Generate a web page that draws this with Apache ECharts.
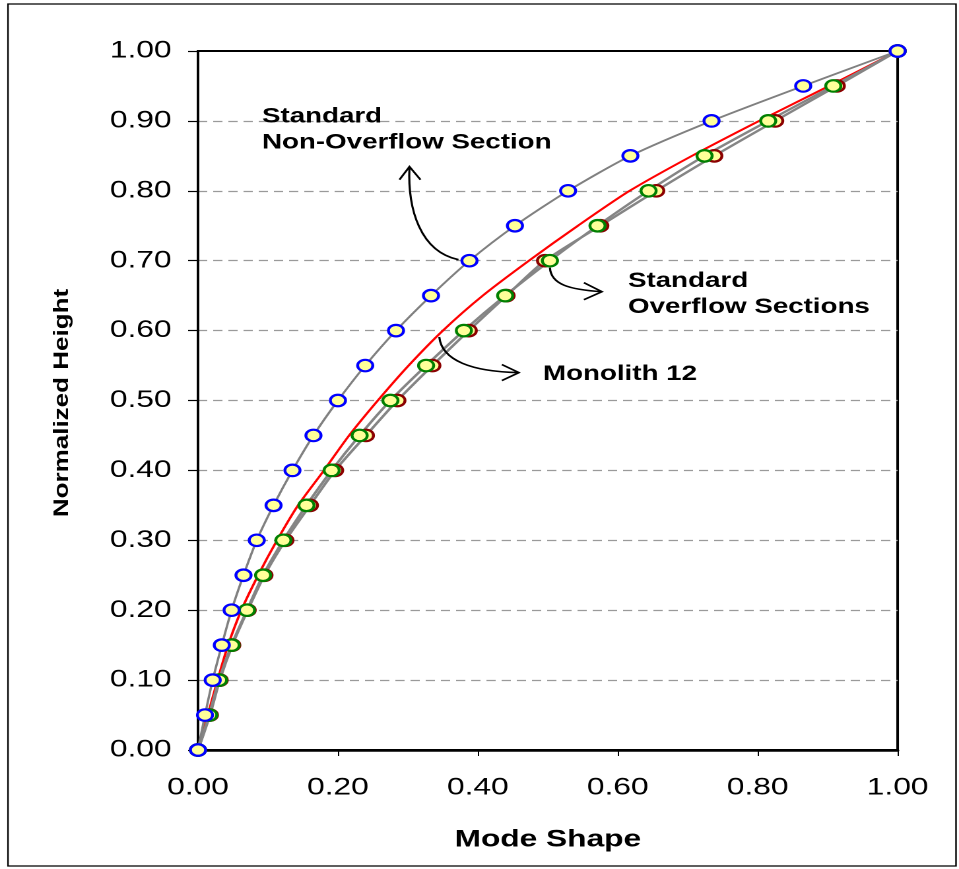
<!DOCTYPE html>
<html>
<head>
<meta charset="utf-8">
<script src="https://cdn.jsdelivr.net/npm/echarts@6/dist/echarts.min.js"></script>
<style>
  html, body { margin: 0; padding: 0; background: #fff; overflow: hidden; }
  #chart { height: 869px; transform-origin: 0 0; }
</style>
</head>
<body>
<div id="chart"></div>
<script>
// Normalized height levels (y) and the mode-shape ordinate (x) of each section at that level
const heights = [0, 0.05, 0.10, 0.15, 0.20, 0.25, 0.30, 0.35, 0.40, 0.45, 0.50,
                 0.55, 0.60, 0.65, 0.70, 0.75, 0.80, 0.85, 0.90, 0.95, 1.00];
const nonOverflow = [0, 0.010, 0.021, 0.034, 0.048, 0.065, 0.084, 0.108, 0.135, 0.165, 0.200,
                     0.239, 0.283, 0.333, 0.388, 0.453, 0.529, 0.618, 0.734, 0.865, 1.000];
const overflowA = [0, 0.016, 0.030, 0.048, 0.070, 0.093, 0.122, 0.155, 0.191, 0.231, 0.275,
                   0.326, 0.380, 0.439, 0.503, 0.571, 0.644, 0.724, 0.815, 0.908, 1.000];
const overflowB = [0, 0.017, 0.031, 0.049, 0.071, 0.095, 0.125, 0.160, 0.196, 0.240, 0.285,
                   0.335, 0.387, 0.441, 0.496, 0.575, 0.655, 0.738, 0.825, 0.913, 1.000];
const monolith12 = [0, 0.014, 0.028, 0.043, 0.062, 0.086, 0.113, 0.143, 0.180, 0.216, 0.257,
                    0.301, 0.350, 0.407, 0.473, 0.543, 0.617, 0.706, 0.802, 0.902, 1.000];
const xTicks = { min: 0, max: 1, interval: 0.2 };
const yTicks = { min: 0, max: 1, interval: 0.1 };

// The figure is laid out in a narrower canvas and widened horizontally.
const S = 1.32;
const W = 959 / S;
const dom = document.getElementById('chart');
dom.style.width = W + 'px';
dom.style.transform = 'scaleX(' + S + ')';

const FONT = '"Liberation Sans", Arial, sans-serif';
const pairs = xs => xs.map((x, i) => [x, heights[i]]);

const chart = echarts.init(dom, null, { renderer: 'canvas', devicePixelRatio: 2 });

const marker = border => ({
  symbol: 'circle',
  symbolSize: 11.5,
  itemStyle: { color: '#FFFF99', borderColor: border, borderWidth: 2.2 }
});

chart.setOption({
  animation: false,
  backgroundColor: '#fff',
  grid: {
    left: 198 / S, right: W - 897 / S, top: 51, bottom: 869 - 750,
    show: true, borderColor: '#000', borderWidth: 2, backgroundColor: 'transparent'
  },
  xAxis: {
    type: 'value', min: xTicks.min, max: xTicks.max, interval: xTicks.interval,
    name: 'Mode Shape', nameLocation: 'middle', nameGap: 78,
    nameTextStyle: { fontSize: 24, fontWeight: 'bold', fontFamily: FONT, color: '#000' },
    axisLine: { show: true, onZero: false, lineStyle: { color: '#000', width: 2.5 } },
    axisTick: { show: true, inside: false, length: 6, lineStyle: { color: '#000', width: 1 } },
    axisLabel: { formatter: v => v.toFixed(2), fontSize: 24, fontFamily: FONT, color: '#000', margin: 26 },
    splitLine: { show: false }
  },
  yAxis: {
    type: 'value', min: yTicks.min, max: yTicks.max, interval: yTicks.interval,
    axisLine: { show: true, onZero: false, lineStyle: { color: '#000', width: 2 } },
    axisTick: { show: true, inside: false, length: 7.5, lineStyle: { color: '#000', width: 1.2 } },
    axisLabel: { formatter: v => v.toFixed(2), fontSize: 24, fontFamily: FONT, color: '#000', margin: 20 },
    splitLine: {
      show: true, showMinLine: false, showMaxLine: false,
      lineStyle: { color: '#9A9A9A', width: 1.2, type: [7, 4.5] }
    }
  },
  series: [
    {
      name: 'Monolith 12', type: 'line', z: 1, silent: true,
      data: pairs(monolith12), smooth: 0.25, showSymbol: false,
      lineStyle: { color: '#FF0000', width: 1.9 }
    },
    Object.assign({
      name: 'Standard Overflow Section B', type: 'line', z: 2, silent: true,
      data: pairs(overflowB), smooth: 0.25,
      lineStyle: { color: '#858585', width: 2.2 }
    }, marker('#8B0000')),
    Object.assign({
      name: 'Standard Overflow Section A', type: 'line', z: 2, silent: true,
      data: pairs(overflowA), smooth: 0.25,
      lineStyle: { color: '#858585', width: 2.2 }
    }, marker('#008000')),
    Object.assign({
      name: 'Standard Non-Overflow Section', type: 'line', z: 3, silent: true,
      data: pairs(nonOverflow), smooth: 0.25,
      lineStyle: { color: '#808080', width: 1.8 }
    }, marker('#0000FF'))
  ]
});

// Annotation callouts, anchored to points on the curves
const toPx = (xs, i) => chart.convertToPixel({ xAxisIndex: 0, yAxisIndex: 0 }, [xs[i], heights[i]]);
const iAt = h => heights.findIndex(v => Math.abs(v - h) < 1e-9);
const a1 = toPx(nonOverflow, iAt(0.70));
const a2 = toPx(overflowA, iAt(0.70));
const a3 = toPx(monolith12, iAt(0.60));
// offsets given in widened-screen pixels
const off = (a, dx, dy) => [a[0] + dx / S, a[1] + dy];

const ink = { stroke: '#000', lineWidth: 1.6, fill: null };
function arrow(a, p0, c1, c2, p3, armA, armB) {
  const P0 = off(a, ...p0), C1 = off(a, ...c1), C2 = off(a, ...c2), P3 = off(a, ...p3);
  return [
    { type: 'bezierCurve', silent: true, z: 10,
      shape: { x1: P0[0], y1: P0[1], cpx1: C1[0], cpy1: C1[1], cpx2: C2[0], cpy2: C2[1], x2: P3[0], y2: P3[1] },
      style: ink },
    { type: 'polyline', silent: true, z: 10,
      shape: { points: [off(a, ...armA), P3, off(a, ...armB)] },
      style: ink }
  ];
}

const label = (x, y, text) => ({
  type: 'text', x: x / S, y: y, silent: true, z: 10,
  style: {
    text: text, fill: '#000', fontSize: 21, fontWeight: 'bold', fontFamily: FONT,
    lineHeight: 26, align: 'left', verticalAlign: 'top', textAlign: 'left', textVerticalAlign: 'top'
  }
});

chart.setOption({
  graphic: [
    { type: 'rect', silent: true, z: -1,
      shape: { x: 8 / S, y: 4, width: (956 - 8) / S, height: 862 },
      style: { fill: null, stroke: '#000', lineWidth: 1.2 } },
    { type: 'text', x: 62 / S, y: 403, rotation: Math.PI / 2, scaleX: 1.3, scaleY: 0.8, silent: true,
      style: {
        text: 'Normalized Height', fill: '#000', fontSize: 20, fontWeight: 'bold', fontFamily: FONT,
        align: 'center', verticalAlign: 'middle', textAlign: 'center', textVerticalAlign: 'middle'
      } },
    label(262, 103.7, 'Standard\nNon-Overflow Section'),
    label(628, 268, 'Standard\nOverflow Sections'),
    label(543, 361, 'Monolith 12'),
    ...arrow(a1, [-11, -1], [-49, -9], [-62, -51], [-60, -94], [-70, -81], [-49, -81]),
    ...arrow(a2, [0, 7], [1, 24], [20, 29], [52, 31], [34, 22], [34, 39]),
    ...arrow(a3, [-3.6, 6.4], [-1, 30], [29, 41], [76, 42], [59, 34], [59, 50])
  ]
});
</script>
</body>
</html>
